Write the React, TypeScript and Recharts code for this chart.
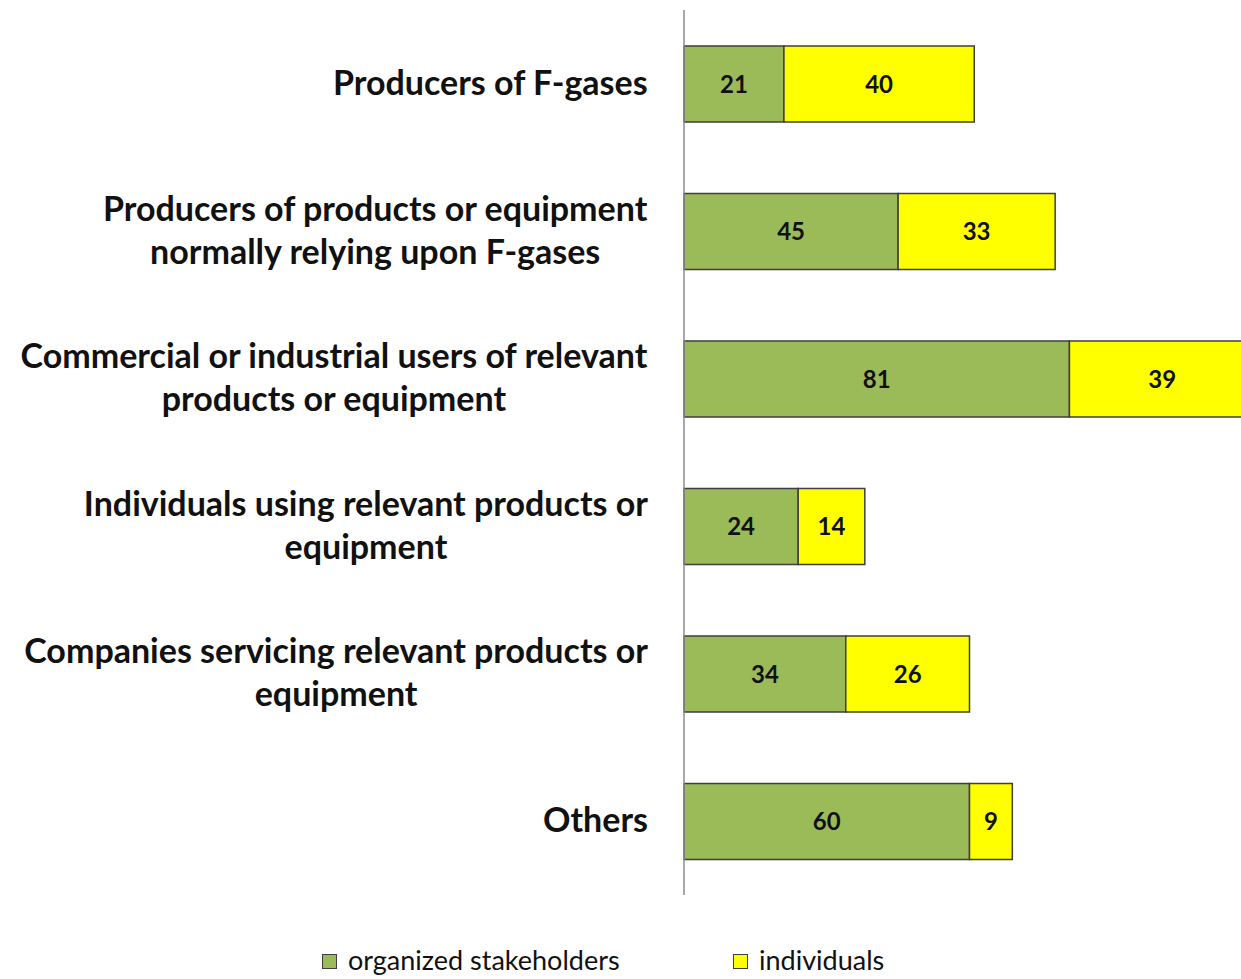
import { Bar, BarChart, LabelList, Legend, XAxis, YAxis } from 'recharts';

const categories = [
  'Producers of F-gases',
  'Producers of products or equipment\nnormally relying upon F-gases',
  'Commercial or industrial users of relevant\nproducts or equipment',
  'Individuals using relevant products or\nequipment',
  'Companies servicing relevant products or\nequipment',
  'Others',
];
const organizedValues = [21, 45, 81, 24, 34, 60];
const individualValues = [40, 33, 39, 14, 26, 9];

const COLORS = {
  organized: '#9BBB59',
  individuals: '#FFFF00',
  border: '#3F3F3F',
  axis: '#8C8C8C',
  text: '#111111',
};

const FONT = 'Lato, "Open Sans", sans-serif';
const LABEL_SIZE = 34;

const data = categories.map((name, i) => ({
  name,
  organized: organizedValues[i],
  individuals: individualValues[i],
}));

let measureCtx: CanvasRenderingContext2D | null = null;
function textWidth(s: string) {
  if (!measureCtx) measureCtx = document.createElement('canvas').getContext('2d');
  if (!measureCtx) return s.length * 16;
  measureCtx.font = `bold ${LABEL_SIZE}px Lato`;
  return measureCtx.measureText(s).width;
}

function CategoryTick(props: any) {
  const { y, payload } = props;
  const lines = String(payload.value).split('\n');
  const blockW = Math.max(...lines.map(textWidth));
  const cx = 648 - blockW / 2;
  const lineH = 43;
  const startY = y - 3 - ((lines.length - 1) * lineH) / 2;
  return (
    <text
      x={cx}
      y={startY}
      textAnchor="middle"
      dominantBaseline="central"
      fontFamily={FONT}
      fontWeight={700}
      fontSize={LABEL_SIZE}
      fill={COLORS.text}
    >
      {lines.map((line, i) => (
        <tspan key={i} x={cx} y={startY + i * lineH}>
          {line}
        </tspan>
      ))}
    </text>
  );
}

function LegendContent() {
  const items = [
    { label: 'organized stakeholders', color: COLORS.organized, left: 322 },
    { label: 'individuals', color: COLORS.individuals, left: 733 },
  ];
  return (
    <div style={{ position: 'relative', height: 84, fontFamily: FONT }}>
      {items.map((it) => (
        <div
          key={it.label}
          style={{
            position: 'absolute',
            left: it.left,
            top: 65,
            display: 'flex',
            alignItems: 'center',
            fontSize: 27,
            color: COLORS.text,
            lineHeight: '30px',
            transform: 'translateY(-50%)',
            whiteSpace: 'nowrap',
          }}
        >
          <span
            style={{
              width: 13,
              height: 13,
              background: it.color,
              border: `1px solid ${COLORS.border}`,
              marginRight: 11,
              marginTop: 3,
              display: 'inline-block',
            }}
          />
          {it.label}
        </div>
      ))}
    </div>
  );
}

export default function App() {
  return (
    <div
      style={{
        position: 'absolute',
        left: 0,
        top: 0,
        width: 1241,
        height: 979,
        overflow: 'hidden',
        background: '#fff',
      }}
    >
      <BarChart
        width={1255}
        height={979}
        data={data}
        layout="vertical"
        barSize={76}
        margin={{ top: 10, right: 0, bottom: 0, left: 0 }}
      >
        <XAxis type="number" domain={[0, 120]} hide />
        <YAxis
          type="category"
          dataKey="name"
          width={684}
          tickLine={false}
          axisLine={{ stroke: COLORS.axis, strokeWidth: 1.5 }}
          tick={<CategoryTick />}
          interval={0}
        />
        <Legend
          verticalAlign="bottom"
          height={84}
          content={() => <LegendContent />}
          wrapperStyle={{ left: 0, width: 1241 }}
        />
        <Bar
          dataKey="organized"
          stackId="a"
          fill={COLORS.organized}
          stroke={COLORS.border}
          strokeWidth={1.5}
          isAnimationActive={false}
        >
          <LabelList
            dataKey="organized"
            position="center"
            fill={COLORS.text}
            fontFamily={FONT}
            fontWeight={700}
            fontSize={24}
          />
        </Bar>
        <Bar
          dataKey="individuals"
          stackId="a"
          fill={COLORS.individuals}
          stroke={COLORS.border}
          strokeWidth={1.5}
          isAnimationActive={false}
        >
          <LabelList
            dataKey="individuals"
            position="center"
            fill={COLORS.text}
            fontFamily={FONT}
            fontWeight={700}
            fontSize={24}
          />
        </Bar>
      </BarChart>
    </div>
  );
}
